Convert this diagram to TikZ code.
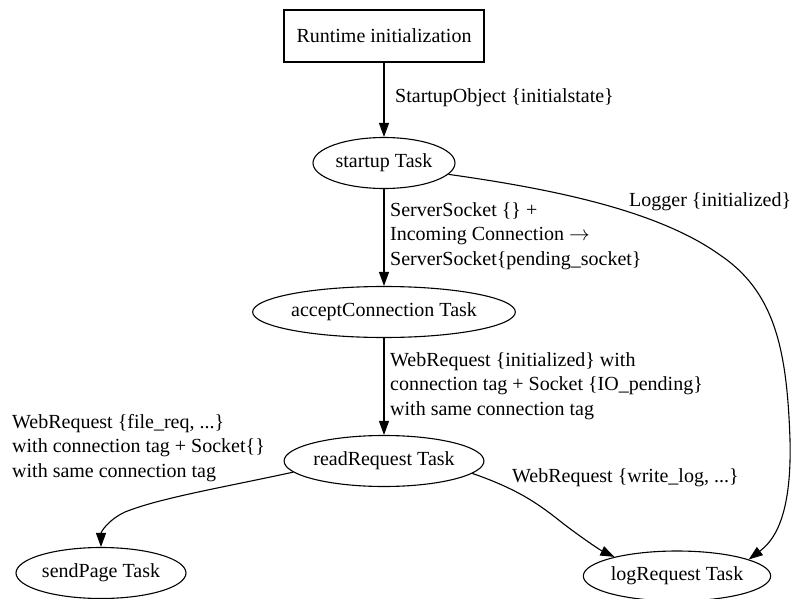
\documentclass[tikz,border=0pt]{standalone}
\usepackage{fontspec}
\setmainfont{Liberation Serif}
\usetikzlibrary{shapes.geometric,arrows.meta}
\begin{document}
\begin{tikzpicture}[x=1pt,y=-1pt,
  every node/.style={font=\fontsize{20}{24.5}\selectfont},
  task/.style={draw,ellipse,line width=1.1pt,inner sep=0pt,minimum height=51pt},
  box/.style={draw,rectangle,line width=1.1pt,inner sep=0pt,minimum width=200pt,minimum height=52pt},
  lbl/.style={anchor=west,align=left,inner sep=0pt},
  edge/.style={line width=1.1pt,-{Triangle[length=14pt,width=10pt]}}]
\useasboundingbox (0,0) rectangle (792,599);
\node[box] (init) at (384,36) {Runtime initialization};
\node[task,minimum width=142pt] (startup) at (384,163) {startup Task};
\node[task,minimum width=228pt] (accept) at (384,312) {acceptConnection Task};
\node[task,minimum width=184pt] (read) at (384,461) {readRequest Task};
\node[task,minimum width=170pt] (send) at (101,573) {sendPage Task};
\node[task,minimum width=174pt,minimum height=50pt] (log) at (677,576) {logRequest Task};

\draw[edge] (init) -- (startup);
\draw[edge] (startup) -- (accept);
\draw[edge] (accept) -- (read);
\draw[edge] (read.187) .. controls (220,488) and (160,498) .. (125,512) .. controls (108,520) and (101,532) .. (send.north);
\draw[edge] (read.352) .. controls (520,490) and (540,505) .. (565,525) .. controls (585,540) and (600,550) .. (log.163);
\draw[edge] (startup.350) .. controls (560,190) and (660,212) .. (720,255) .. controls (775,292) and (787,350) .. (790,440) .. controls (792,520) and (772,542) .. (log.13);

\node[lbl] (l1) at (395,98) {StartupObject \{initialstate\}};
\node[lbl] (l2) at (390,236) {ServerSocket \{\} +\\Incoming Connection $\rightarrow$\\ServerSocket\{pending\_socket\}};
\node[lbl] (l3) at (390,386) {WebRequest \{initialized\} with\\connection tag + Socket \{IO\_pending\}\\with same connection tag};
\node[lbl] (l4) at (12,448) {WebRequest \{file\_req, ...\}\\with connection tag + Socket\{\}\\with same connection tag};
\node[lbl] (l5) at (512,478) {WebRequest \{write\_log, ...\}};
\node[lbl] (l6) at (629,202) {Logger \{initialized\}};
\end{tikzpicture}
\end{document}
